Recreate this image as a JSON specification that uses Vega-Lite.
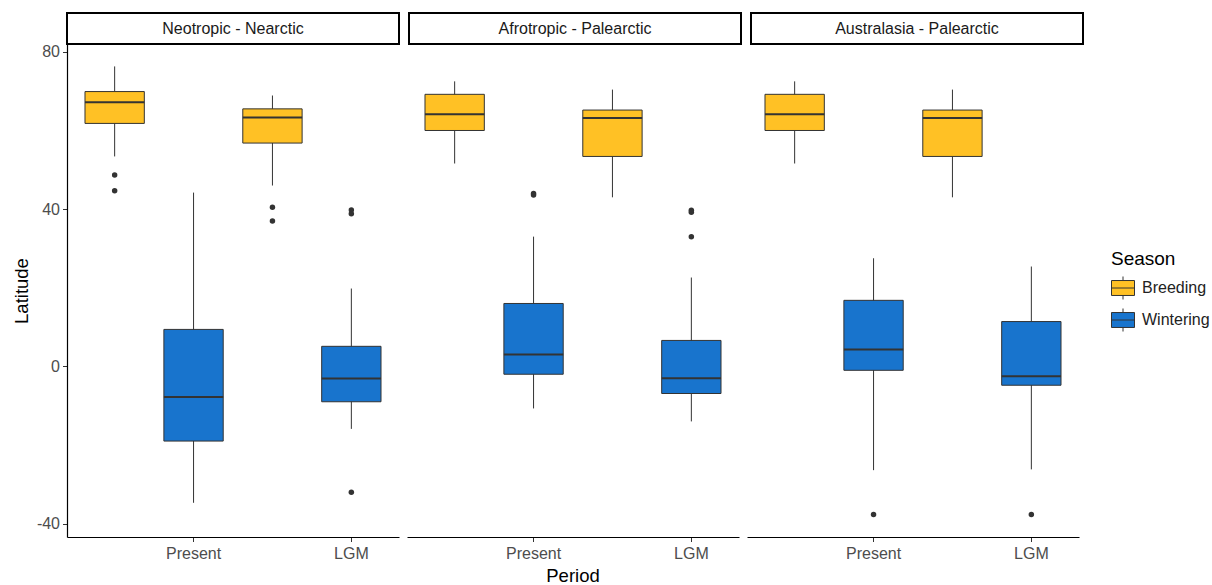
{
  "$schema": "https://vega.github.io/schema/vega-lite/v6.json",
  "background": "white",
  "padding": {"left": 12, "top": 12, "right": 5, "bottom": 0},
  "datasets": {
    "regions": [
      {"region": "Neotropic - Nearctic"},
      {"region": "Afrotropic - Palearctic"},
      {"region": "Australasia - Palearctic"}
    ],
    "boxes": [
      {"region": "Neotropic - Nearctic", "period": "Present", "season": "Breeding", "lower": 53.4, "q1": 61.8, "median": 67.2, "q3": 69.9, "upper": 76.3},
      {"region": "Neotropic - Nearctic", "period": "LGM", "season": "Breeding", "lower": 46.0, "q1": 56.8, "median": 63.3, "q3": 65.5, "upper": 68.9},
      {"region": "Neotropic - Nearctic", "period": "Present", "season": "Wintering", "lower": -34.7, "q1": -19.0, "median": -7.8, "q3": 9.4, "upper": 44.2},
      {"region": "Neotropic - Nearctic", "period": "LGM", "season": "Wintering", "lower": -15.9, "q1": -9.0, "median": -3.1, "q3": 5.1, "upper": 19.8},
      {"region": "Afrotropic - Palearctic", "period": "Present", "season": "Breeding", "lower": 51.6, "q1": 60.0, "median": 64.1, "q3": 69.2, "upper": 72.5},
      {"region": "Afrotropic - Palearctic", "period": "LGM", "season": "Breeding", "lower": 43.0, "q1": 53.4, "median": 63.2, "q3": 65.2, "upper": 70.4},
      {"region": "Afrotropic - Palearctic", "period": "Present", "season": "Wintering", "lower": -10.7, "q1": -2.0, "median": 3.0, "q3": 16.0, "upper": 33.0},
      {"region": "Afrotropic - Palearctic", "period": "LGM", "season": "Wintering", "lower": -14.0, "q1": -6.9, "median": -3.0, "q3": 6.6, "upper": 22.6},
      {"region": "Australasia - Palearctic", "period": "Present", "season": "Breeding", "lower": 51.6, "q1": 60.0, "median": 64.1, "q3": 69.2, "upper": 72.5},
      {"region": "Australasia - Palearctic", "period": "LGM", "season": "Breeding", "lower": 43.0, "q1": 53.4, "median": 63.2, "q3": 65.2, "upper": 70.4},
      {"region": "Australasia - Palearctic", "period": "Present", "season": "Wintering", "lower": -26.4, "q1": -1.0, "median": 4.3, "q3": 16.8, "upper": 27.5},
      {"region": "Australasia - Palearctic", "period": "LGM", "season": "Wintering", "lower": -26.2, "q1": -4.8, "median": -2.5, "q3": 11.4, "upper": 25.4},
      {"region": "Neotropic - Nearctic", "period": "Present", "season": "Breeding", "outlier": 48.7},
      {"region": "Neotropic - Nearctic", "period": "Present", "season": "Breeding", "outlier": 44.7},
      {"region": "Neotropic - Nearctic", "period": "LGM", "season": "Breeding", "outlier": 40.5},
      {"region": "Neotropic - Nearctic", "period": "LGM", "season": "Breeding", "outlier": 37.0},
      {"region": "Neotropic - Nearctic", "period": "LGM", "season": "Wintering", "outlier": 39.8},
      {"region": "Neotropic - Nearctic", "period": "LGM", "season": "Wintering", "outlier": 38.8},
      {"region": "Neotropic - Nearctic", "period": "LGM", "season": "Wintering", "outlier": -32.0},
      {"region": "Afrotropic - Palearctic", "period": "Present", "season": "Wintering", "outlier": 44.0},
      {"region": "Afrotropic - Palearctic", "period": "Present", "season": "Wintering", "outlier": 43.6},
      {"region": "Afrotropic - Palearctic", "period": "LGM", "season": "Wintering", "outlier": 39.7},
      {"region": "Afrotropic - Palearctic", "period": "LGM", "season": "Wintering", "outlier": 39.2},
      {"region": "Afrotropic - Palearctic", "period": "LGM", "season": "Wintering", "outlier": 33.0},
      {"region": "Australasia - Palearctic", "period": "Present", "season": "Wintering", "outlier": -37.7},
      {"region": "Australasia - Palearctic", "period": "LGM", "season": "Wintering", "outlier": -37.7}
    ]
  },
  "bounds": "flush",
  "spacing": 31,
  "vconcat": [
    {
      "data": {"name": "regions"},
      "facet": {"column": {"field": "region", "type": "nominal", "sort": ["Neotropic - Nearctic", "Afrotropic - Palearctic", "Australasia - Palearctic"], "header": null}},
      "spacing": 8,
      "spec": {
        "width": 332,
        "height": 31,
        "view": {"stroke": "#000000", "strokeWidth": 2, "fill": "white"},
        "mark": {"type": "text", "font": "Liberation Sans", "fontSize": 16, "color": "#1a1a1a"},
        "encoding": {"text": {"field": "region", "type": "nominal"}}
      }
    },
    {
      "data": {"name": "boxes"},
      "facet": {"column": {"field": "region", "type": "nominal", "sort": ["Neotropic - Nearctic", "Afrotropic - Palearctic", "Australasia - Palearctic"], "title": "Period",
        "header": {"labels": false, "titleOrient": "bottom", "titleFont": "Liberation Sans", "titleFontSize": 18.5, "titleFontWeight": "normal", "titleColor": "#000000", "titlePadding": -5}}},
      "spacing": 8,
      "spec": {
        "width": 332,
        "height": 493,
        "encoding": {
          "x": {
            "field": "period", "type": "nominal", "sort": ["Present", "LGM"],
            "scale": {"paddingInner": 0, "paddingOuter": 0.052},
            "axis": {"title": null, "bandPosition": 0.75, "labelOffset": 39.5, "labelAngle": 0, "labelPadding": 4}
          },
          "xOffset": {
            "field": "season", "type": "nominal", "sort": ["Breeding", "Wintering"],
            "scale": {"paddingInner": 0.248, "paddingOuter": 0.124}
          }
        },
        "layer": [
          {
            "mark": {"type": "rule", "color": "#333333", "strokeWidth": 1},
            "encoding": {
              "y": {"field": "lower", "type": "quantitative", "title": "Latitude",
                    "scale": {"domain": [-43.4, 82], "nice": false, "zero": false},
                    "axis": {"values": [-40, 0, 40, 80], "labelExpr": "'' + datum.value", "labelPadding": 3, "titlePadding": 5}},
              "y2": {"field": "upper"}
            }
          },
          {
            "mark": {"type": "bar", "stroke": "#333333", "strokeWidth": 1},
            "encoding": {
              "y": {"field": "q1", "type": "quantitative", "title": "Latitude"},
              "y2": {"field": "q3"},
              "fill": {
                "field": "season", "type": "nominal", "title": "Season",
                "scale": {"domain": ["Breeding", "Wintering"], "range": ["#FFC125", "#1874CD"]}
              }
            }
          },
          {
            "mark": {"type": "bar", "fill": "transparent", "stroke": "#333333", "strokeWidth": 2},
            "encoding": {
              "y": {"field": "median", "type": "quantitative", "title": "Latitude"},
              "y2": {"field": "median"}
            }
          },
          {
            "mark": {"type": "point", "filled": true, "color": "#333333", "size": 30, "opacity": 1},
            "encoding": {
              "y": {"field": "outlier", "type": "quantitative", "title": "Latitude"}
            }
          }
        ]
      }
    }
  ],
  "config": {
    "font": "Liberation Sans",
    "view": {"stroke": null},
    "axis": {
      "grid": false,
      "domainColor": "#000000",
      "domainWidth": 1.2,
      "tickColor": "#333333",
      "tickSize": 4.5,
      "tickWidth": 1,
      "labelColor": "#4d4d4d",
      "labelFontSize": 16,
      "labelFont": "Liberation Sans",
      "titleFont": "Liberation Sans",
      "titleFontSize": 18.5,
      "titleFontWeight": "normal",
      "titleColor": "#000000"
    },
    "legend": {
      "orient": "none",
      "legendX": 1044,
      "legendY": 237,
      "titleFont": "Liberation Sans",
      "titleFontSize": 19,
      "titleFontWeight": "normal",
      "titleColor": "#000000",
      "titlePadding": 7,
      "labelFont": "Liberation Sans",
      "labelFontSize": 16,
      "labelColor": "#222222",
      "labelOffset": 7,
      "rowPadding": 4,
      "symbolSize": 529,
      "symbolType": "M-1,-0.65H1V0.65H-1Z M-1,0H1 M0,-0.65V-1 M0,0.65V1",
      "symbolStrokeColor": "#333333",
      "symbolStrokeWidth": 1,
      "symbolOpacity": 1
    }
  }
}
